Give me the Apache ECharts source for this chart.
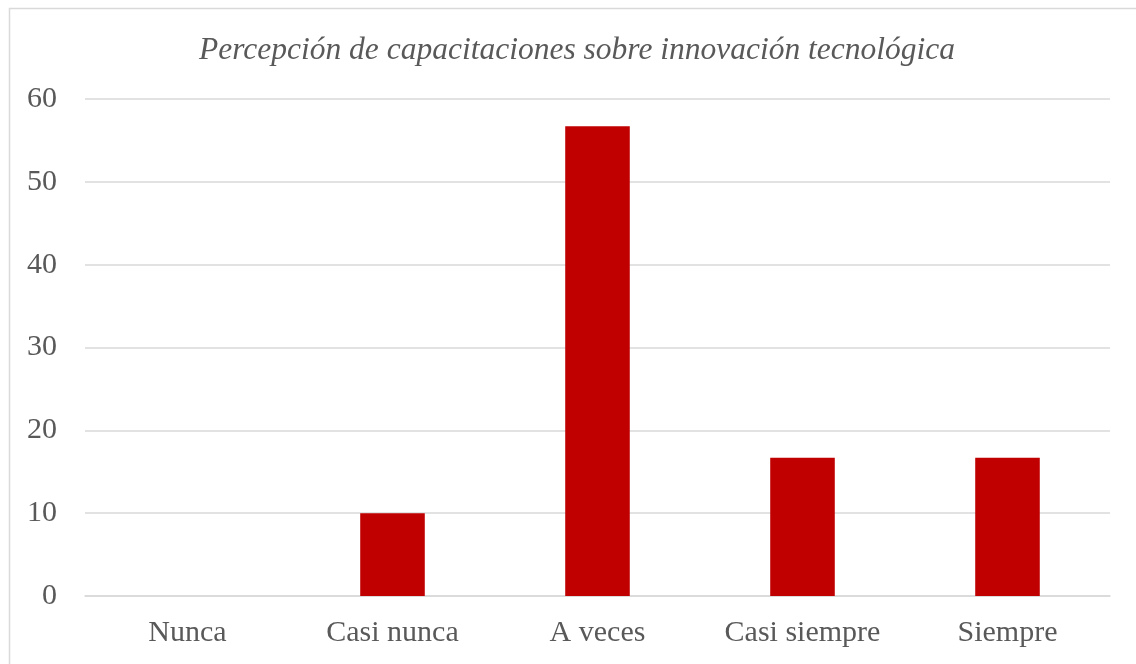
<!DOCTYPE html>
<html>
<head>
<meta charset="utf-8">
<style>html,body{margin:0;padding:0;background:#fff;}#c{width:1136px;height:664px;}</style>
<script src="https://cdn.jsdelivr.net/npm/echarts@6/dist/echarts.min.js"></script>
</head>
<body>
<div id="c"></div>
<script>
const title = "Percepción de capacitaciones sobre innovación tecnológica";
const categories = ["Nunca", "Casi nunca", "A veces", "Casi siempre", "Siempre"];
const values = [0, 10, 56.7, 16.7, 16.7];
const yTicks = { min: 0, max: 60, interval: 10 };

const chart = echarts.init(document.getElementById('c'), null, { renderer: 'canvas' });
const serif = '"Liberation Serif", "DejaVu Serif", serif';
chart.setOption({
  animation: false,
  backgroundColor: '#fff',
  graphic: [{
    type: 'rect', left: 7, top: 6, z: -1,
    shape: { width: 1140, height: 670 },
    style: { fill: 'none', stroke: '#d9d9d9', lineWidth: 1.5 }
  }],
  title: {
    text: title, left: 572, textAlign: 'center', top: 30,
    textStyle: { fontFamily: serif, fontStyle: 'italic', fontWeight: 'normal', fontSize: 31.5, color: '#595959' }
  },
  grid: { left: 85, right: 26, top: 99, bottom: 68 },
  xAxis: {
    type: 'category', data: categories,
    axisLine: { show: true, lineStyle: { color: '#d9d9d9', width: 1.5 } },
    axisTick: { show: false },
    axisLabel: { interval: 0, hideOverlap: false, fontFamily: serif, fontSize: 30, color: '#595959', margin: 22 }
  },
  yAxis: {
    type: 'value', min: yTicks.min, max: yTicks.max, interval: yTicks.interval,
    axisLine: { show: false }, axisTick: { show: false },
    splitLine: { lineStyle: { color: '#d9d9d9', width: 1.5 } },
    axisLabel: { fontFamily: serif, fontSize: 30, color: '#595959', margin: 28 }
  },
  series: [{
    type: 'bar', data: values, barWidth: '31.5%',
    itemStyle: { color: '#C00000' }
  }]
});
</script>
</body>
</html>
